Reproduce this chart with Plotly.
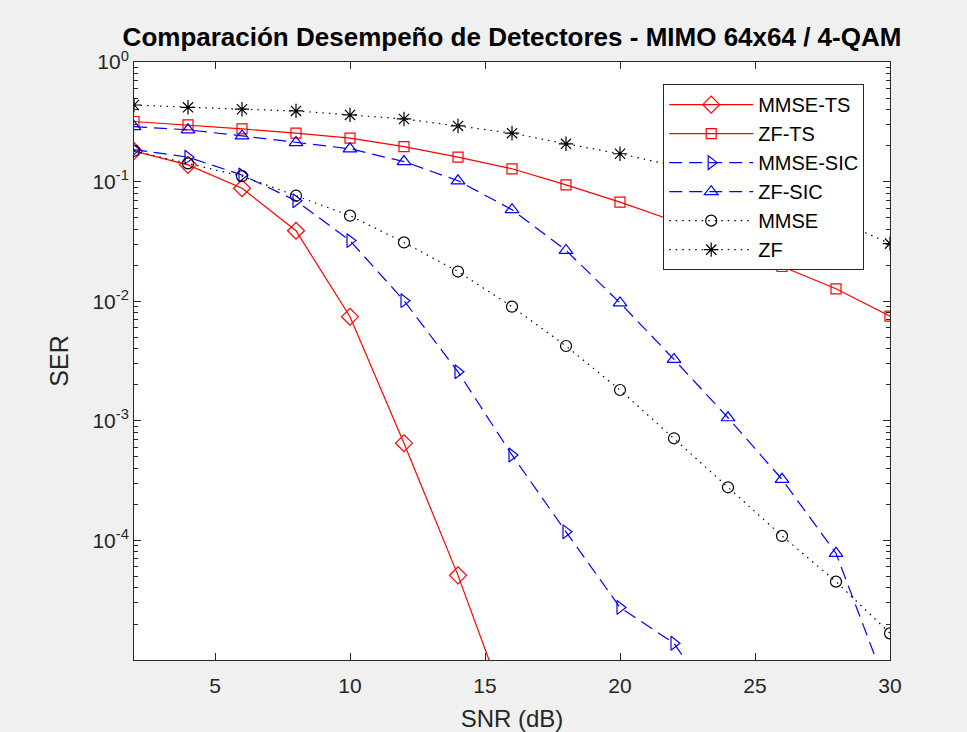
import plotly.graph_objects as go

# SNR grid (dB) and measured SER per detector (None = no errors counted)
snr = [2, 4, 6, 8, 10, 12, 14, 16, 18, 20, 22, 24, 26, 28, 30]

mmse_ts = [0.180, 0.138, 0.088, 0.0388, 0.00742, 6.5e-4, 5.1e-5, 3e-6,
           None, None, None, None, None, None, None]
zf_ts = [0.318, 0.298, 0.276, 0.254, 0.231, 0.196, 0.160, 0.128, 0.094,
         0.0673, 0.0468, 0.031, 0.0195, 0.0127, 0.0075]
mmse_sic = [0.185, 0.160, 0.1136, 0.0692, 0.0321, 0.0101, 0.00257, 5.18e-4,
            1.18e-4, 2.75e-5, 1.38e-5, 3e-6, None, None, None]
zf_sic = [0.288, 0.271, 0.241, 0.212, 0.188, 0.147, 0.1016, 0.0582, 0.0266,
          0.00968, 0.00326, 0.00106, 3.24e-4, 7.8e-5, 5e-6]
mmse = [0.181, 0.142, 0.111, 0.0762, 0.0519, 0.031, 0.0177, 0.0090, 0.00422,
        0.00181, 7.14e-4, 2.78e-4, 1.09e-4, 4.52e-5, 1.67e-5]
zf = [0.437, 0.418, 0.403, 0.390, 0.361, 0.334, 0.292, 0.254, 0.207, 0.171,
      0.1355, 0.1028, 0.0728, 0.0481, 0.0303]

x_ticks = [5, 10, 15, 20, 25, 30]
y_ticks = [1, 1e-1, 1e-2, 1e-3, 1e-4]
y_tick_text = ["10<sup>0</sup>", "10<sup>-1</sup>", "10<sup>-2</sup>",
               "10<sup>-3</sup>", "10<sup>-4</sup>"]

RED, BLUE, BLACK = "#ff0000", "#0000ff", "#000000"
AXIS = "#262626"
FONT = "Liberation Sans, Arial, Helvetica, sans-serif"
DASHED = "13px,7px"
DOTTED = "1.5px,5px"

series = [
    ("MMSE-TS", mmse_ts, RED, "solid", "diamond-open", 13),
    ("ZF-TS", zf_ts, RED, "solid", "square-open", 10),
    ("MMSE-SIC", mmse_sic, BLUE, DASHED, "triangle-right-open", 12),
    ("ZF-SIC", zf_sic, BLUE, DASHED, "triangle-up-open", 12),
    ("MMSE", mmse, BLACK, DOTTED, "circle-open", 11),
    ("ZF", zf, BLACK, DOTTED, "asterisk-open", 12),
]

fig = go.Figure()
for name, vals, color, dash, symbol, size in series:
    fig.add_trace(go.Scatter(
        x=snr, y=vals, name=name, mode="lines+markers",
        line=dict(color=color, width=1.2, dash=dash),
        marker=dict(symbol=symbol, size=size, color=color,
                    line=dict(color=color, width=1.2)),
        connectgaps=False, legendgroup=name,
    ))

fig.update_layout(
    width=967, height=732,
    paper_bgcolor="#f0f0f0", plot_bgcolor="#ffffff",
    font=dict(family=FONT, color=AXIS, size=20),
    margin=dict(l=134, r=77, t=62, b=72),
    title=dict(text="<b>Comparación Desempeño de Detectores - MIMO 64x64 / 4-QAM</b>",
               x=0.5, xref="paper", y=0.949, yref="container", yanchor="middle",
               font=dict(size=26, color="#000000")),
    legend=dict(x=0.700, y=0.963, xanchor="left", yanchor="top",
                bgcolor="#ffffff", bordercolor=AXIS, borderwidth=1,
                font=dict(size=20, color="#000000"), itemwidth=84,
                tracegroupgap=0),
    showlegend=True,
)

fig.update_xaxes(
    range=[2, 30], tickvals=x_ticks, ticks="inside", ticklen=7,
    tickcolor=AXIS, showline=True, linecolor=AXIS, linewidth=1,
    mirror="allticks", showgrid=False, zeroline=False, automargin=False,
    tickfont=dict(size=21), ticklabelstandoff=7,
    title=dict(text="SNR (dB)", font=dict(size=24), standoff=14),
)
fig.update_yaxes(
    type="log", range=[-5, 0], tickvals=y_ticks, ticktext=y_tick_text,
    ticks="inside", ticklen=7, tickcolor=AXIS, showline=True,
    linecolor=AXIS, linewidth=1, mirror="allticks", showgrid=False,
    zeroline=False, automargin=False, tickfont=dict(size=21),
    minor=dict(dtick="D1", ticks="inside", ticklen=4, tickcolor=AXIS,
               showgrid=False),
    title=dict(text="SER", font=dict(size=25), standoff=16),
)

fig.write_html("out.html", config={"displayModeBar": False},
               post_script="document.body.style.margin='0';"
                           "document.body.style.background='#f0f0f0';")
